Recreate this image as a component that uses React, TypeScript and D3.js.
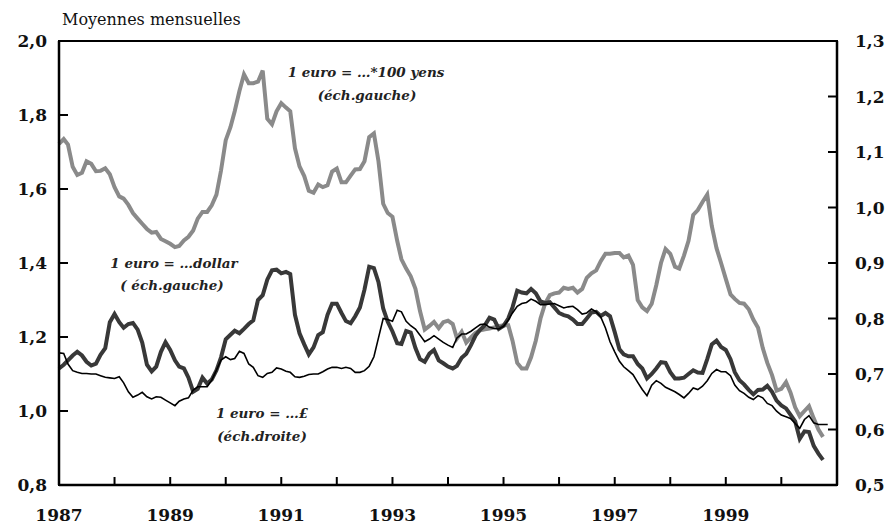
import React from "react";
import * as d3 from "d3";

// Monthly averages, Jan 1987 onward
const startYear = 1987;
const yenValues = [
  1.722, 1.735, 1.72, 1.66, 1.638, 1.644, 1.675, 1.668, 1.648, 1.649, 1.656, 1.64,
  1.605, 1.58, 1.574, 1.557, 1.535, 1.52, 1.506, 1.492, 1.482, 1.484, 1.465, 1.459,
  1.452, 1.443, 1.446, 1.461, 1.471, 1.488, 1.52, 1.538, 1.538, 1.556, 1.585, 1.65,
  1.732, 1.767, 1.81, 1.865, 1.91, 1.886, 1.886, 1.89, 1.92, 1.79, 1.775, 1.81,
  1.832, 1.82, 1.81, 1.71, 1.661, 1.635, 1.595, 1.59, 1.612, 1.605, 1.61, 1.647,
  1.655, 1.618, 1.618, 1.636, 1.653, 1.654, 1.675, 1.74, 1.75, 1.675, 1.56, 1.535,
  1.525, 1.46, 1.41, 1.385, 1.364, 1.33, 1.27, 1.22, 1.23, 1.241, 1.224, 1.24,
  1.244, 1.235, 1.196, 1.214, 1.185, 1.199, 1.211, 1.218, 1.221, 1.223, 1.226, 1.229,
  1.232, 1.232, 1.19, 1.13, 1.115, 1.115, 1.145, 1.19, 1.25, 1.29, 1.313, 1.318,
  1.32, 1.333, 1.33, 1.333, 1.32, 1.33, 1.36, 1.372, 1.38, 1.405, 1.425, 1.425,
  1.427, 1.427, 1.415, 1.42, 1.395, 1.3, 1.28, 1.27, 1.29, 1.34, 1.4, 1.438,
  1.425, 1.39, 1.385, 1.42, 1.46, 1.53, 1.543, 1.565, 1.585, 1.5, 1.44, 1.4,
  1.357, 1.315, 1.303, 1.292, 1.29, 1.275, 1.247, 1.225, 1.17, 1.13, 1.097, 1.055,
  1.06, 1.078, 1.05, 1.01, 0.986, 1.0, 1.013, 0.98, 0.95, 0.93,
];
const dollarValues = [
  1.115, 1.125, 1.137, 1.15, 1.16, 1.15, 1.133, 1.123, 1.128, 1.152, 1.17, 1.24,
  1.262, 1.24, 1.225, 1.235, 1.238, 1.22, 1.185, 1.125, 1.107, 1.12, 1.16, 1.186,
  1.165, 1.137, 1.12, 1.115, 1.09, 1.052, 1.06, 1.09, 1.074, 1.085, 1.11, 1.145,
  1.194, 1.206, 1.217, 1.21, 1.222, 1.235, 1.245, 1.3, 1.313, 1.355, 1.38, 1.382,
  1.372, 1.376, 1.37, 1.26, 1.21, 1.18, 1.153, 1.172, 1.205, 1.213, 1.26, 1.29,
  1.29, 1.265, 1.243, 1.237, 1.256, 1.28, 1.328, 1.39, 1.386, 1.348, 1.277, 1.241,
  1.215, 1.183, 1.181, 1.216, 1.212, 1.17, 1.14, 1.133, 1.155, 1.165, 1.137, 1.129,
  1.12, 1.115, 1.122, 1.144, 1.155, 1.178, 1.204, 1.22, 1.232, 1.252, 1.247, 1.222,
  1.23, 1.25, 1.28, 1.325, 1.32, 1.318, 1.33, 1.318, 1.296, 1.292, 1.294, 1.28,
  1.265, 1.259, 1.256, 1.247, 1.235, 1.235, 1.25, 1.266, 1.268, 1.257, 1.265, 1.256,
  1.213, 1.167, 1.153, 1.148, 1.148, 1.127, 1.115, 1.088, 1.1, 1.115, 1.132, 1.13,
  1.105, 1.088, 1.088, 1.09, 1.1, 1.11, 1.104, 1.103, 1.14, 1.18, 1.19, 1.173,
  1.165, 1.14, 1.105, 1.083, 1.072, 1.057, 1.045, 1.057, 1.058, 1.068, 1.052, 1.028,
  1.015, 1.007, 0.99, 0.972, 0.925, 0.945, 0.943, 0.906, 0.885, 0.868,
];
const poundValues = [
  0.738, 0.737, 0.718, 0.706, 0.703, 0.701, 0.701, 0.7, 0.7, 0.697, 0.694, 0.693,
  0.692, 0.695, 0.684, 0.668, 0.658, 0.662, 0.667, 0.659, 0.655, 0.659, 0.658, 0.653,
  0.648, 0.643, 0.651, 0.655, 0.657, 0.671, 0.677, 0.677, 0.677, 0.689, 0.707, 0.725,
  0.731, 0.726, 0.728, 0.741, 0.737, 0.718, 0.712, 0.697, 0.694, 0.701, 0.703, 0.711,
  0.709, 0.705, 0.703, 0.695, 0.694, 0.696, 0.699, 0.7, 0.7, 0.704, 0.709, 0.712,
  0.712, 0.71, 0.712, 0.71, 0.703, 0.703, 0.706, 0.714, 0.731, 0.765, 0.8, 0.798,
  0.795, 0.815, 0.812, 0.795, 0.787, 0.781, 0.77, 0.758, 0.763, 0.769, 0.763, 0.757,
  0.752, 0.748, 0.765, 0.772, 0.772, 0.777, 0.783, 0.789, 0.79, 0.784, 0.782, 0.781,
  0.786, 0.797, 0.81, 0.822, 0.827, 0.829, 0.835, 0.831, 0.825, 0.825, 0.826, 0.827,
  0.823, 0.819, 0.821, 0.822, 0.816, 0.808, 0.81, 0.817, 0.812, 0.803, 0.783, 0.758,
  0.74, 0.723, 0.713, 0.706, 0.699, 0.685, 0.672, 0.661, 0.68, 0.688, 0.683, 0.676,
  0.672, 0.668, 0.663, 0.657, 0.665, 0.675, 0.672, 0.678, 0.688, 0.701, 0.708, 0.704,
  0.704, 0.697, 0.68, 0.67, 0.665, 0.658, 0.654, 0.661, 0.657, 0.647, 0.643, 0.633,
  0.626, 0.623, 0.62, 0.611, 0.602, 0.618, 0.625, 0.612, 0.609, 0.609, 0.609,
];
const leftTicks = [0.8, 1.0, 1.2, 1.4, 1.6, 1.8, 2.0];
const rightTicks = [0.5, 0.6, 0.7, 0.8, 0.9, 1.0, 1.1, 1.2, 1.3];
const yearTicks = d3.range(1987, 2002);
const yearLabels = [1987, 1989, 1991, 1993, 1995, 1997, 1999];
const titleText = "Moyennes mensuelles";

const W = 887;
const H = 527;
const L = 59;
const R = 837;
const T = 41;
const B = 485;
const FONT = "'DejaVu Serif', 'Liberation Serif', serif";

const fmt = (v: number) => v.toFixed(1).replace(".", ",");

export default function App() {
  const x = d3
    .scaleTime()
    .domain([new Date(1987, 0, 1), new Date(2001, 0, 1)])
    .range([L, R]);
  const yL = d3.scaleLinear().domain([0.8, 2.0]).range([B, T]);
  const yR = d3.scaleLinear().domain([0.5, 1.3]).range([B, T]);

  const toPts = (vals: number[]) =>
    vals.map((v, i) => ({ d: new Date(startYear, i, 1), v }));

  const lineL = d3
    .line<{ d: Date; v: number }>()
    .x((p) => x(p.d))
    .y((p) => yL(p.v));
  const lineR = d3
    .line<{ d: Date; v: number }>()
    .x((p) => x(p.d))
    .y((p) => yR(p.v));

  const tickStyle = {
    fontFamily: FONT,
    fontWeight: 700,
    fontSize: 17,
    fill: "#111",
  } as const;
  const annStyle = {
    fontFamily: FONT,
    fontWeight: 700,
    fontStyle: "italic",
    fontSize: 13.5,
    fill: "#222",
  } as const;

  return (
    <svg
      width={W}
      height={H}
      style={{ position: "absolute", left: 0, top: 0, background: "#fff" }}
    >
      <rect x={0} y={0} width={W} height={H} fill="#fff" />
      <text
        x={62}
        y={25}
        style={{ fontFamily: FONT, fontSize: 16, fill: "#111", fontWeight: 500 }}
      >
        {titleText}
      </text>

      {/* series */}
      <path
        d={lineL(toPts(yenValues)) || ""}
        fill="none"
        stroke="#8a8a8a"
        strokeWidth={4}
        strokeLinejoin="miter"
      />
      <path
        d={lineL(toPts(dollarValues)) || ""}
        fill="none"
        stroke="#383838"
        strokeWidth={4}
        strokeLinejoin="miter"
      />
      <path
        d={lineR(toPts(poundValues)) || ""}
        fill="none"
        stroke="#000"
        strokeWidth={1.6}
      />

      {/* frame */}
      <rect x={L} y={T} width={R - L} height={B - T} fill="none" stroke="#000" strokeWidth={2} />
      <line x1={L} x2={L} y1={T} y2={B} stroke="#000" strokeWidth={2.5} />
      <line x1={R} x2={R} y1={T} y2={B} stroke="#000" strokeWidth={2.5} />
      <line x1={L} x2={R} y1={B} y2={B} stroke="#000" strokeWidth={2.5} />

      {/* left ticks */}
      {leftTicks.map((t) => (
        <g key={"l" + t}>
          <line x1={L} x2={L + 9} y1={yL(t)} y2={yL(t)} stroke="#000" strokeWidth={2} />
          <text x={47} y={yL(t)} dy="0.36em" textAnchor="end" style={tickStyle}>
            {fmt(t)}
          </text>
        </g>
      ))}
      {/* right ticks */}
      {rightTicks.map((t) => (
        <g key={"r" + t}>
          <line x1={R - 9} x2={R} y1={yR(t)} y2={yR(t)} stroke="#000" strokeWidth={2} />
          <text x={855} y={yR(t)} dy="0.36em" textAnchor="start" style={tickStyle}>
            {fmt(t)}
          </text>
        </g>
      ))}
      {/* x ticks */}
      {yearTicks.map((yr) => (
        <line
          key={"x" + yr}
          x1={x(new Date(yr, 0, 1))}
          x2={x(new Date(yr, 0, 1))}
          y1={B}
          y2={B - 8}
          stroke="#000"
          strokeWidth={2}
        />
      ))}
      {yearLabels.map((yr) => (
        <text
          key={"xl" + yr}
          x={x(new Date(yr, 0, 1))}
          y={521}
          textAnchor="middle"
          style={tickStyle}
        >
          {yr}
        </text>
      ))}

      {/* annotations */}
      <text x={366} y={77} textAnchor="middle" style={annStyle}>
        1 euro = …*100 yens
      </text>
      <text x={367} y={100} textAnchor="middle" style={annStyle}>
        (éch.gauche)
      </text>
      <text x={174} y={268} textAnchor="middle" style={annStyle}>
        1 euro = …dollar
      </text>
      <text x={172} y={290} textAnchor="middle" style={annStyle}>
        ( éch.gauche)
      </text>
      <text x={262} y={418} textAnchor="middle" style={annStyle}>
        1 euro = …£
      </text>
      <text x={262} y={441} textAnchor="middle" style={annStyle}>
        (éch.droite)
      </text>
    </svg>
  );
}
